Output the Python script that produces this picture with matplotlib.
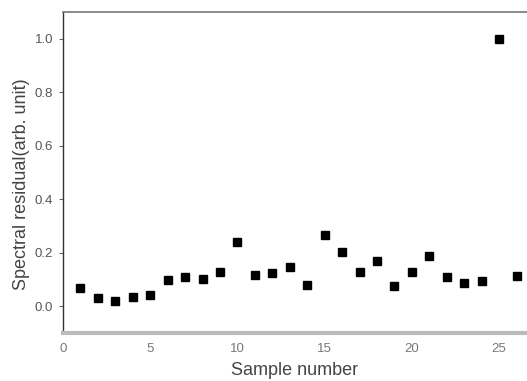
import matplotlib
matplotlib.use("Agg")
import matplotlib.pyplot as plt

plt.rcParams["font.family"] = ["Liberation Sans", "DejaVu Sans"]

sample = list(range(1, 27))
residual = [0.068, 0.030, 0.021, 0.036, 0.041, 0.098, 0.109, 0.100, 0.128, 0.239,
            0.117, 0.126, 0.146, 0.081, 0.265, 0.203, 0.128, 0.170, 0.076, 0.128,
            0.188, 0.109, 0.086, 0.093, 1.000, 0.114]
xticks = [0, 5, 10, 15, 20, 25]
yticks = [0.0, 0.2, 0.4, 0.6, 0.8, 1.0]

fig = plt.figure(figsize=(5.27, 3.81), dpi=100)
ax = fig.add_axes([0.1195, 0.126, 0.8805, 0.843])
ax.plot(sample, residual, linestyle="none", marker="s", markersize=5.5,
        color="black")
ax.set_xlim(0, 26.6)
ax.set_ylim(-0.1, 1.1)
ax.set_xticks(xticks)
ax.set_yticks(yticks)
ax.set_yticklabels([f"{v:.1f}" for v in yticks])
ax.tick_params(axis="y", direction="out", length=3, width=0.8, color="#666666",
               labelsize=9.5, labelcolor="#555555", pad=4)
ax.tick_params(axis="x", length=0, labelsize=9.5, labelcolor="#777777", pad=7)
ax.spines["right"].set_visible(False)
ax.spines["top"].set_color("#777777")
ax.spines["top"].set_linewidth(1.2)
ax.spines["left"].set_color("#333333")
ax.spines["left"].set_linewidth(1.0)
ax.spines["bottom"].set_color("#bbbbbb")
ax.spines["bottom"].set_linewidth(3)
ax.set_xlabel("Sample number", fontsize=13, color="#444444", labelpad=5)
ax.set_ylabel("Spectral residual(arb. unit)", fontsize=13, color="#444444")
ax.yaxis.set_label_coords(-0.072, 0.464)
fig.savefig("out.png", dpi=100)
